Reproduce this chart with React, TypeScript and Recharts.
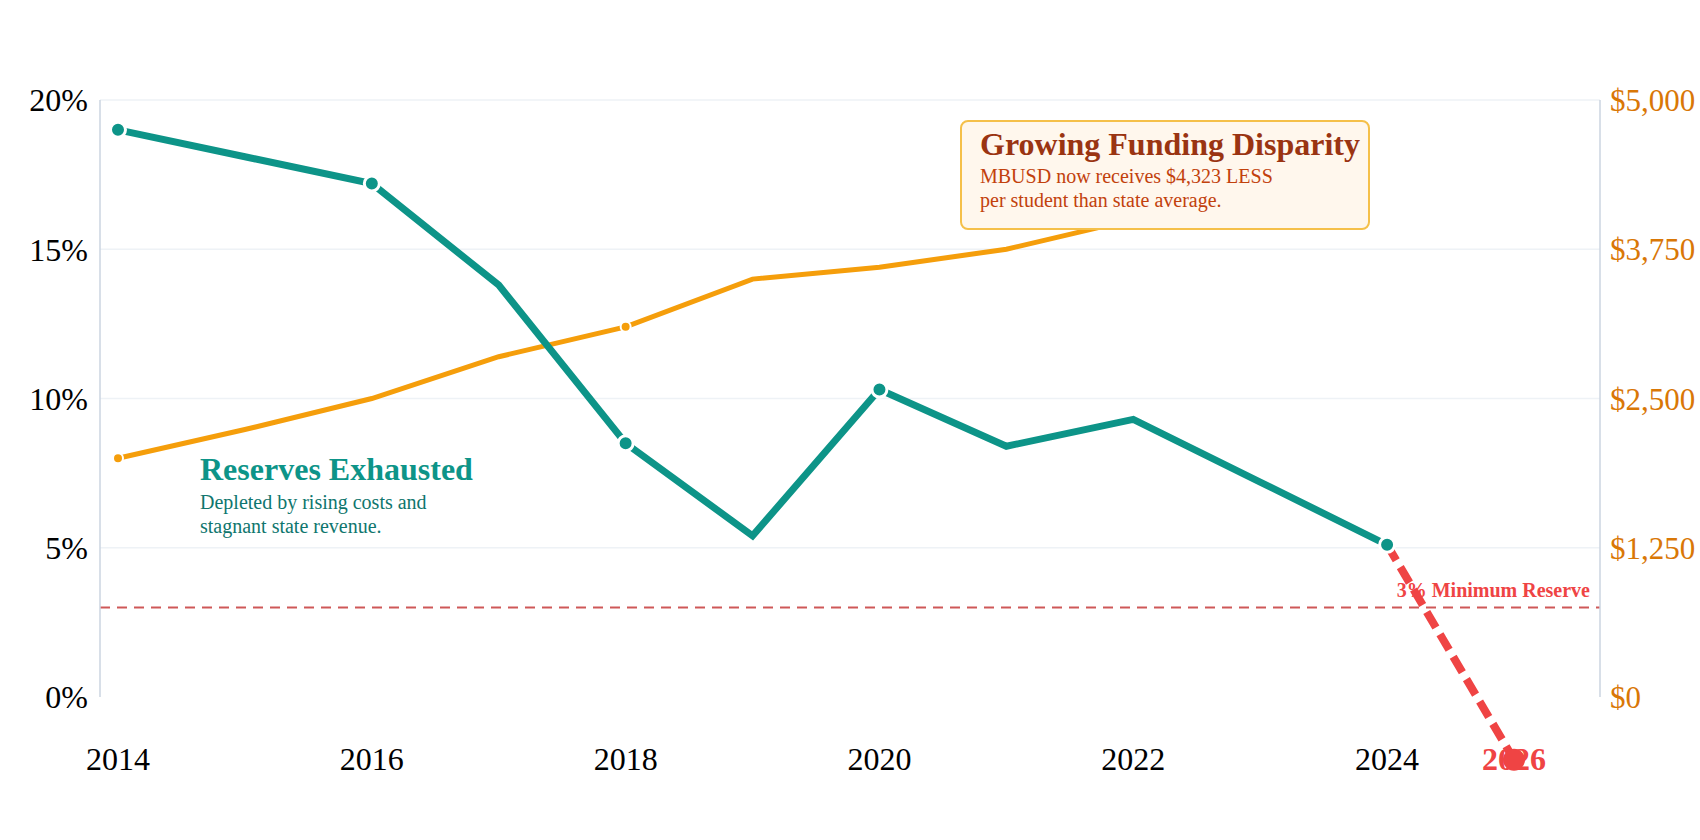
import { LineChart, Line, XAxis, YAxis, CartesianGrid, ReferenceLine } from "recharts";

const years = [2014, 2015, 2016, 2017, 2018, 2019, 2020, 2021, 2022, 2023, 2024, 2026];
// general fund reserve as % of expenditures
const reservePct = [19.0, 18.1, 17.2, 13.8, 8.5, 5.4, 10.3, 8.4, 9.3, 7.2, 5.1, null];
// projected reserve after 2024
const projectedPct = [null, null, null, null, null, null, null, null, null, null, 5.1, -2.1];
// per-student funding gap vs state average ($)
const fundingGap = [2000, 2240, 2500, 2850, 3100, 3500, 3600, 3750, 4000, 4323, null, null];

const pctTicks = [0, 5, 10, 15, 20];
const gridValues = [5, 10, 15, 20];
const gapTicks = [0, 1250, 2500, 3750, 5000];
const reserveDotYears = [2014, 2016, 2018, 2020, 2024];
const gapDotYears = [2014, 2018, 2022];
const minReserve = 3;

const TEAL = "#0d9488";
const AMBER = "#f59e0b";
const RED = "#ef4444";
const FONT = "'Liberation Serif', 'Times New Roman', Times, serif";

const data = years.map((year, i) => ({
  year,
  reserve: reservePct[i],
  projected: projectedPct[i],
  gap: fundingGap[i],
}));

const YearTick = ({ x, y, payload }: any) => {
  const yr = Number(payload.value);
  if (yr % 2 !== 0) return <g />;
  const isProjection = yr === 2026;
  return (
    <text
      x={x}
      y={y}
      dy="0.71em"
      textAnchor="middle"
      fontFamily={FONT}
      fontSize={32}
      fontWeight={isProjection ? 700 : 400}
      fill={isProjection ? RED : "#000"}
    >
      {payload.value}
    </text>
  );
};

const makeDot = (years: number[], r: number, fill: string, strokeW: number) => (props: any) => {
  const { cx, cy, payload, index } = props;
  if (cx == null || cy == null || !years.includes(payload.year)) return <g key={index} />;
  return <circle key={index} cx={cx} cy={cy} r={r} fill={fill} stroke="#fff" strokeWidth={strokeW} />;
};

const projectionDot = (props: any) => {
  const { cx, cy, payload, index } = props;
  if (cx == null || cy == null || payload.year !== 2026) return <g key={index} />;
  return <circle key={index} cx={cx} cy={cy} r={11} fill={RED} />;
};

const fmtMoney = (v: number) => "$" + v.toLocaleString("en-US");

export default function App() {
  return (
    <div style={{ position: "relative", width: 1700, height: 840, background: "#fff", fontFamily: FONT }}>
      <style>{`body{margin:0} .recharts-wrapper [clip-path]{clip-path:none !important}`}</style>
      <LineChart width={1700} height={840} data={data} margin={{ top: 100, right: 0, bottom: 0, left: 0 }}>
        <CartesianGrid yAxisId="pct" vertical={false} horizontalValues={gridValues} stroke="#eef2f6" strokeWidth={1.5} />
        <XAxis
          dataKey="year"
          type="category"
          interval={0}
          height={143}
          axisLine={false}
          tickLine={false}
          tickMargin={44}
          padding={{ left: 18, right: 86 }}
          tick={<YearTick />}
        />
        <YAxis
          yAxisId="pct"
          domain={[0, 20]}
          ticks={pctTicks}
          allowDataOverflow
          width={100}
          tickFormatter={(v) => `${v}%`}
          axisLine={{ stroke: "#cbd5e1", strokeWidth: 1.5 }}
          tickLine={false}
          tickMargin={6}
          tick={{ fill: "#000", fontSize: 32, fontFamily: FONT }}
        />
        <YAxis
          yAxisId="gap"
          orientation="right"
          domain={[0, 5000]}
          ticks={gapTicks}
          width={100}
          tickFormatter={fmtMoney}
          axisLine={{ stroke: "#cbd5e1", strokeWidth: 1.5 }}
          tickLine={false}
          tickMargin={4}
          tick={{ fill: "#d97706", fontSize: 31, fontFamily: FONT }}
        />
        <ReferenceLine
          yAxisId="pct"
          y={minReserve}
          stroke="#c94646"
          strokeOpacity={0.9}
          strokeWidth={2}
          strokeDasharray="10 7"
          label={{
            value: "3% Minimum Reserve",
            position: "insideBottomRight",
            offset: 10,
            fill: RED,
            fontSize: 20,
            fontWeight: 700,
            fontFamily: FONT,
          }}
        />
        <Line
          yAxisId="pct"
          dataKey="projected"
          className="projection-line"
          stroke={RED}
          strokeWidth={8}
          strokeDasharray="18 8"
          dot={projectionDot}
          activeDot={false}
          isAnimationActive={false}
        />
        <Line
          yAxisId="gap"
          dataKey="gap"
          stroke={AMBER}
          strokeWidth={5}
          dot={makeDot(gapDotYears, 5, AMBER, 2)}
          activeDot={false}
          isAnimationActive={false}
        />
        <Line
          yAxisId="pct"
          dataKey="reserve"
          stroke={TEAL}
          strokeWidth={7}
          dot={makeDot(reserveDotYears, 7.5, TEAL, 3)}
          activeDot={false}
          isAnimationActive={false}
        />
      </LineChart>

      <div
        style={{
          position: "absolute",
          left: 960,
          top: 120,
          width: 410,
          height: 110,
          boxSizing: "border-box",
          border: "2px solid #f5c04a",
          borderRadius: 8,
          background: "#fff7ed",
          padding: "4px 0 0 18px",
        }}
      >
        <div style={{ fontSize: 32, lineHeight: "36px", fontWeight: 700, color: "#9a3412", whiteSpace: "nowrap" }}>
          Growing Funding Disparity
        </div>
        <div style={{ marginTop: 2, fontSize: 20, lineHeight: "24px", color: "#c2410c" }}>
          MBUSD now receives $4,323 LESS
          <br />
          per student than state average.
        </div>
      </div>

      <div style={{ position: "absolute", left: 200, top: 451 }}>
        <div style={{ fontSize: 32, lineHeight: "36px", fontWeight: 700, color: TEAL }}>Reserves Exhausted</div>
        <div style={{ marginTop: 3, fontSize: 20, lineHeight: "24px", color: "#0f766e" }}>
          Depleted by rising costs and
          <br />
          stagnant state revenue.
        </div>
      </div>
    </div>
  );
}
